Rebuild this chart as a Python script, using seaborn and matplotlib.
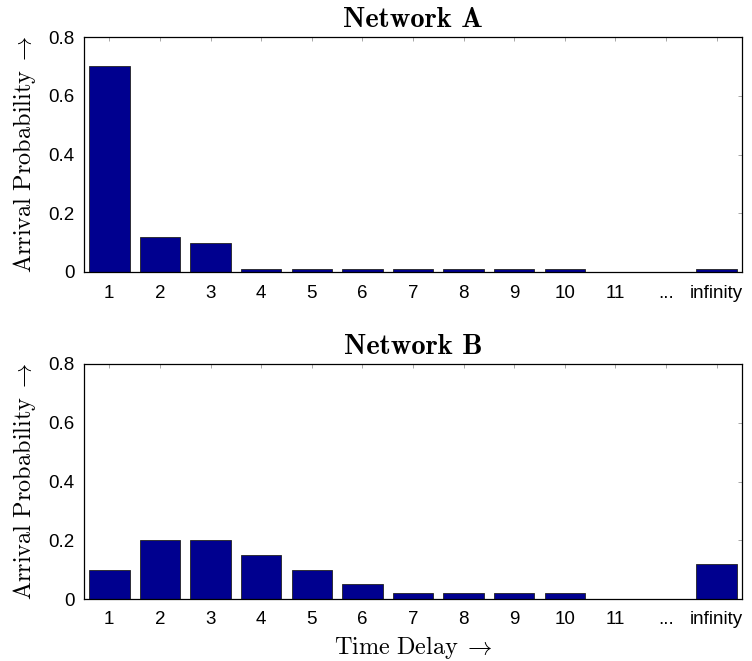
import matplotlib
matplotlib.use('Agg')
import matplotlib.pyplot as plt
import pandas as pd
import seaborn as sns

# data
delay_labels = ['1', '2', '3', '4', '5', '6', '7', '8', '9', '10', '11', '...', 'infinity']
network_a = [0.70, 0.12, 0.10, 0.01, 0.01, 0.01, 0.01, 0.01, 0.01, 0.01, 0.0, 0.0, 0.01]
network_b = [0.10, 0.20, 0.20, 0.15, 0.10, 0.05, 0.02, 0.02, 0.02, 0.02, 0.0, 0.0, 0.12]
y_ticks = [0, 0.2, 0.4, 0.6, 0.8]
y_tick_labels = ['0', '0.2', '0.4', '0.6', '0.8']

BAR_COLOR = '#00008F'

sns.set_style('white')
plt.rcParams['font.family'] = ['Liberation Sans', 'DejaVu Sans']
plt.rcParams['mathtext.fontset'] = 'cm'
plt.rcParams['text.color'] = 'black'
plt.rcParams['axes.labelcolor'] = 'black'


def draw_panel(ax, values, title, show_xlabel=False):
    df = pd.DataFrame({'delay': delay_labels, 'prob': values})
    sns.barplot(data=df, x='delay', y='prob', order=delay_labels, color=BAR_COLOR,
                saturation=1, width=0.8, edgecolor='#222222', linewidth=0.6, ax=ax)
    ax.set_xlim(-0.5, len(delay_labels) - 0.5)
    ax.set_ylim(0, 0.8)
    ax.set_yticks(y_ticks)
    ax.set_yticklabels(y_tick_labels)
    ax.tick_params(direction='in', length=3, width=0.6, color='#999999',
                   top=True, right=True, labelsize=13.5, labelcolor='black')
    ax.tick_params(axis='x', pad=9)
    ax.tick_params(axis='y', pad=7)
    for sp in ax.spines.values():
        sp.set_visible(True)
        sp.set_color('black')
        sp.set_linewidth(0.9)
    ax.set_title(title, fontfamily='cmb10', fontsize=20.5, pad=7, color='black')
    ax.set_ylabel(r'$\mathrm{Arrival\ Probability}\;\rightarrow$', fontsize=17.5,
                  labelpad=7)
    if show_xlabel:
        ax.set_xlabel(r'$\mathrm{Time\ Delay}\;\rightarrow$', fontsize=17.5,
                      labelpad=4)
    else:
        ax.set_xlabel('')


fig = plt.figure(figsize=(7.52, 6.61), dpi=100)
ax_a = fig.add_axes([84 / 752, 1 - 272 / 661, 658 / 752, 235 / 661])
ax_b = fig.add_axes([84 / 752, 1 - 599 / 661, 658 / 752, 235 / 661])

draw_panel(ax_a, network_a, 'Network A')
draw_panel(ax_b, network_b, 'Network B', show_xlabel=True)

fig.savefig('out.png', dpi=100)
plt.close(fig)
